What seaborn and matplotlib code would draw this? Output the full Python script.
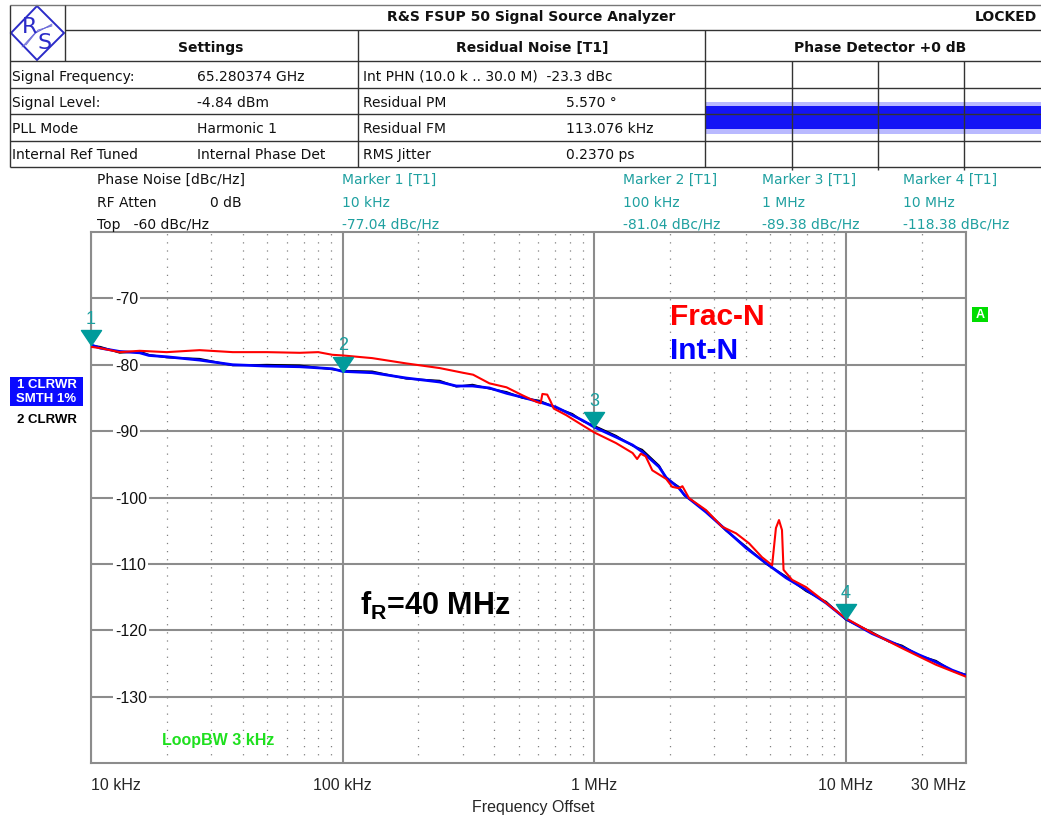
import numpy as np
import pandas as pd
import matplotlib
matplotlib.use("Agg")
import matplotlib.pyplot as plt
import matplotlib.transforms as mtransforms
from matplotlib.path import Path
from matplotlib.patches import Rectangle, Polygon
from matplotlib.ticker import LogLocator, NullFormatter
import seaborn as sns

# ---------------- data ----------------
intn_freq = [1.0e4, 1.09e4, 1.3e4, 1.56e4, 1.7e4, 2.0e4, 2.7e4, 3.66e4, 5.0e4, 6.75e4,
             9.1e4, 1.0e5, 1.31e5, 1.79e5, 2.43e5, 2.83e5, 3.28e5, 3.83e5, 4.48e5, 5.18e5,
             6.05e5, 7.06e5, 8.18e5, 9.0e5, 1.0e6, 1.22e6, 1.42e6, 1.55e6, 1.81e6, 1.93e6,
             2.17e6, 2.28e6, 2.78e6, 3.34e6, 4.01e6, 4.82e6, 5.78e6, 6.94e6, 8.34e6, 1.0e7,
             1.27e7, 1.48e7, 1.67e7, 1.95e7, 2.28e7, 2.64e7, 3.0e7]
intn_db = [-77.0, -77.5, -78.0, -78.2, -78.6, -78.8, -79.3, -80.0, -80.2, -80.3,
           -80.6, -81.0, -81.2, -82.0, -82.6, -83.2, -83.2, -83.5, -84.3, -84.9,
           -85.6, -86.4, -87.6, -88.4, -89.4, -90.9, -92.1, -93.1, -95.4, -97.0,
           -98.6, -99.6, -102.2, -104.9, -107.6, -109.9, -112.1, -113.9, -115.9, -118.3,
           -120.5, -121.6, -122.5, -123.7, -124.8, -126.0, -126.8]
# trace 2 (unsmoothed, black) follows the Int-N trace closely
intn_raw_db = [-77.1, -77.3, -78.2, -78.0, -78.5, -78.9, -79.1, -80.1, -80.0, -80.1,
               -80.7, -80.9, -81.0, -82.1, -82.4, -83.3, -83.0, -83.6, -84.1, -85.0,
               -85.4, -86.5, -87.4, -88.5, -89.2, -90.7, -92.2, -92.8, -95.2, -97.1,
               -98.4, -99.7, -102.0, -105.0, -107.4, -110.0, -111.9, -114.1, -115.7, -118.4,
               -120.3, -121.7, -122.3, -123.8, -124.6, -126.1, -126.7]
fracn_freq = [1.0e4, 1.09e4, 1.3e4, 1.56e4, 2.0e4, 2.7e4, 3.66e4, 5.0e4, 6.75e4, 8.0e4,
              9.1e4, 1.0e5, 1.31e5, 1.79e5, 2.43e5, 3.0e5, 3.3e5, 3.83e5, 4.48e5, 5.18e5,
              5.9e5, 6.12e5, 6.22e5, 6.5e5, 6.7e5, 6.9e5, 7.74e5, 8.96e5, 1.0e6, 1.22e6,
              1.42e6, 1.48e6, 1.53e6, 1.6e6, 1.7e6, 1.93e6, 2.04e6, 2.17e6, 2.24e6, 2.38e6,
              2.78e6, 3.22e6, 3.66e6, 4.12e6, 4.64e6, 5.09e6, 5.27e6, 5.42e6, 5.57e6, 5.65e6,
              6.11e6, 6.94e6, 7.81e6, 8.8e6, 1.0e7, 1.27e7, 1.67e7, 2.28e7, 3.0e7]
fracn_db = [-77.3, -77.5, -78.1, -77.9, -78.1, -77.8, -78.1, -78.1, -78.2, -78.1,
            -78.5, -78.6, -79.0, -79.8, -80.5, -81.2, -81.5, -82.8, -83.4, -84.6,
            -85.6, -85.8, -84.4, -84.5, -85.5, -86.6, -87.6, -89.1, -90.2, -91.8,
            -93.3, -94.2, -93.4, -93.8, -95.9, -97.2, -98.4, -98.6, -98.3, -100.1,
            -101.9, -104.4, -105.4, -106.9, -109.0, -110.2, -104.6, -103.4, -104.9, -110.9,
            -112.4, -113.5, -115.0, -116.6, -118.2, -120.4, -122.7, -125.2, -127.0]

marker_ids = ["1", "2", "3", "4"]
marker_freq = [1e4, 1e5, 1e6, 1e7]
marker_db = [-77.04, -81.04, -89.38, -118.38]
marker_freq_text = ["10 kHz", "100 kHz", "1 MHz", "10 MHz"]
marker_db_text = ["-77.04 dBc/Hz", "-81.04 dBc/Hz", "-89.38 dBc/Hz", "-118.38 dBc/Hz"]

x_ticks = [1e4, 1e5, 1e6, 1e7, 3e7]
x_tick_labels = ["10 kHz", "100 kHz", "1 MHz", "10 MHz", "30 MHz"]
y_ticks = [-70, -80, -90, -100, -110, -120, -130]

settings_labels = ["Signal Frequency:", "Signal Level:", "PLL Mode", "Internal Ref Tuned"]
settings_values = ["65.280374 GHz", "-4.84 dBm", "Harmonic 1", "Internal Phase Det"]
noise_labels = ["Int PHN (10.0 k .. 30.0 M)  -23.3 dBc", "Residual PM", "Residual FM", "RMS Jitter"]
noise_values = ["", "5.570 °", "113.076 kHz", "0.2370 ps"]

# ---------------- style ----------------
sns.set_style("white")
plt.rcParams["font.family"] = ["Liberation Sans", "DejaVu Sans"]
plt.rcParams["mathtext.fontset"] = "custom"
plt.rcParams["mathtext.bf"] = "Liberation Sans:bold"
plt.rcParams["mathtext.rm"] = "Liberation Sans"

W, H = 1041, 819
fig = plt.figure(figsize=(W / 100, H / 100), dpi=100)
fig.patch.set_facecolor("white")
L, R, T, B = 91, 966, 232, 763
ax = fig.add_axes([L / W, 1 - B / H, (R - L) / W, (B - T) / H])

df_raw = pd.DataFrame({"f": intn_freq, "db": intn_raw_db})
df_int = pd.DataFrame({"f": intn_freq, "db": intn_db})
df_frac = pd.DataFrame({"f": fracn_freq, "db": fracn_db})
sns.lineplot(data=df_raw, x="f", y="db", ax=ax, color="black", lw=1.3,
             estimator=None, sort=False, zorder=3)
sns.lineplot(data=df_int, x="f", y="db", ax=ax, color="#0000ff", lw=2.0,
             estimator=None, sort=False, zorder=4)
sns.lineplot(data=df_frac, x="f", y="db", ax=ax, color="#ff0000", lw=1.5,
             estimator=None, sort=False, zorder=5)

ax.set_xscale("log")
ax.set_xlim(1e4, 3e7)
ax.set_ylim(-140, -60)
ax.set_xticks(x_ticks)
ax.set_xticklabels(x_tick_labels)
ax.xaxis.set_minor_locator(LogLocator(base=10, subs=np.arange(2, 10), numticks=100))
ax.xaxis.set_minor_formatter(NullFormatter())
ax.set_yticks(y_ticks)
ax.set_yticklabels([])
ax.grid(True, which="major", axis="both", color="#8c8c8c", lw=1.5, ls="-")
ax.grid(True, which="minor", axis="x", color="#808080", lw=0.9, ls=(0, (1, 5.5)))
ax.tick_params(which="both", length=0)
ax.tick_params(axis="x", pad=11, labelsize=11.5)
for s in ax.spines.values():
    s.set_color("#8c8c8c")
    s.set_linewidth(1.5)
labs = ax.get_xticklabels()
labs[0].set_ha("left")
labs[-1].set_ha("right")
ax.set_ylabel("")
ax.set_xlabel("Frequency Offset", fontsize=11.5)
ax.xaxis.set_label_coords((533 - L) / (R - L), (B - 800) / (B - T))

trans = mtransforms.blended_transform_factory(ax.transAxes, ax.transData)
for v in y_ticks:
    ax.text((115 - L) / (R - L), v, str(v), transform=trans, ha="left",
            va="center_baseline", fontsize=11.5, color="#111111",
            bbox=dict(fc="white", ec="none", pad=1.5), zorder=2.5)

# markers
tri = Path([(0, 0), (-0.67, 1), (0.67, 1), (0, 0)],
           [Path.MOVETO, Path.LINETO, Path.LINETO, Path.CLOSEPOLY])
ax.plot(marker_freq, marker_db, ls="none", marker=tri, ms=21.6, color="#009b9b",
        mec="#009b9b", clip_on=False, zorder=6)
for f, d, lab in zip(marker_freq, marker_db, marker_ids):
    ax.annotate(lab, (f, d), xytext=(0, 12.5), textcoords="offset points", ha="center",
                va="bottom", color="#1a9f9f", fontsize=13,
                family=["Liberation Sans"], annotation_clip=False, zorder=6)

# ---------------- overlay in pixel coordinates ----------------
hx = fig.add_axes([0, 0, 1, 1])
hx.set_xlim(0, W)
hx.set_ylim(H, 0)
hx.axis("off")

lc = "#333333"
def hl(y, x0, x1, c=lc, lw=1.0):
    hx.plot([x0, x1], [y, y], color=c, lw=lw, solid_capstyle="butt")
def vl(x, y0, y1, c=lc, lw=1.0):
    hx.plot([x, x], [y0, y1], color=c, lw=lw, solid_capstyle="butt")

hl(5, 10, W, c="#777777")
hl(30, 65, W)
hl(61, 10, W)
for yy in (88, 114, 141):
    hl(yy, 10, W)
hl(167, 10, W)
vl(10, 5, 167)
vl(65, 5, 61)
vl(358, 30, 167)
vl(705, 30, 167)
for xx in (792, 878, 964):
    vl(xx, 61, 170)

# phase detector trace band
hx.add_patch(Rectangle((706, 102), W - 706, 32, fc="#1a1aff", ec="none", alpha=0.3))
hx.add_patch(Rectangle((706, 106), W - 706, 23, fc="#1414f5", ec="none"))

# logo
hx.add_patch(Polygon([(11, 33), (37, 6), (64, 33), (37, 60)], closed=True, fill=False,
                     ec="#2b2bc8", lw=1.4))
hx.text(30, 27, "R", fontsize=16, color="#2b2bc8", ha="center", va="center",
        family="DejaVu Sans")
hx.text(45, 43, "S", fontsize=16, color="#2b2bc8", ha="center", va="center",
        family="DejaVu Sans")
for k in range(3):
    hx.plot([22 + k * 2, 34 + k * 2, 52], [47 - k, 34 - k * 2, 24 + k], color="#6a6ad8", lw=0.6)

hf = dict(family="DejaVu Sans", fontsize=10, color="#111111")
hx.text(531, 21, "R&S FSUP 50 Signal Source Analyzer", ha="center", va="baseline",
        weight="bold", **hf)
hx.text(1037, 21, "LOCKED", ha="right", va="baseline", weight="bold", **hf)
hx.text(211, 52, "Settings", ha="center", va="baseline", weight="bold", **hf)
hx.text(532, 52, "Residual Noise [T1]", ha="center", va="baseline", weight="bold", **hf)
hx.text(880, 52, "Phase Detector +0 dB", ha="center", va="baseline", weight="bold", **hf)

row_base = [81, 107, 133, 159]
for yb, a, b, c, d in zip(row_base, settings_labels, settings_values, noise_labels, noise_values):
    hx.text(12, yb, a, ha="left", va="baseline", **hf)
    hx.text(197, yb, b, ha="left", va="baseline", **hf)
    hx.text(363, yb, c, ha="left", va="baseline", **hf)
    hx.text(566, yb, d, ha="left", va="baseline", **hf)

# info lines above the plot
hx.text(97, 184, "Phase Noise [dBc/Hz]", ha="left", va="baseline", **hf)
hx.text(97, 207, "RF Atten", ha="left", va="baseline", **hf)
hx.text(210, 207, "0 dB", ha="left", va="baseline", **hf)
hx.text(97, 229, "Top   -60 dBc/Hz", ha="left", va="baseline", **hf)
teal = "#1fa0a0"
for xm, mid, ft, dt in zip([342, 623, 762, 903], marker_ids, marker_freq_text, marker_db_text):
    hx.text(xm, 184, f"Marker {mid} [T1]", ha="left", va="baseline",
            family="DejaVu Sans", fontsize=10, color=teal)
    hx.text(xm, 207, ft, ha="left", va="baseline", family="DejaVu Sans", fontsize=10, color=teal)
    hx.text(xm, 229, dt, ha="left", va="baseline", family="DejaVu Sans", fontsize=10, color=teal)

# trace labels on the left
hx.add_patch(Rectangle((10, 377), 73, 29, fc="#0a0aff", ec="none"))
hx.text(46.5, 385.5, "1 CLRWR", ha="center", va="center", color="white",
        weight="bold", fontsize=9.5)
hx.text(46.5, 398.5, "SMTH 1%", ha="center", va="center", color="white",
        weight="bold", fontsize=9.5)
hx.text(47, 420, "2 CLRWR", ha="center", va="center", color="black",
        weight="bold", fontsize=9.5)

# green A
hx.add_patch(Rectangle((972, 307), 16, 15, fc="#00dd00", ec="none"))
hx.text(980, 314.5, "A", ha="center", va="center", color="white", weight="bold", fontsize=9)

# annotations
hx.text(670, 325, "Frac-N", ha="left", va="baseline", color="#ff0000", weight="bold",
        fontsize=21.5)
hx.text(670, 359, "Int-N", ha="left", va="baseline", color="#0000ff", weight="bold",
        fontsize=21.5)
hx.text(360, 615, r"$\mathbf{f_R}$=40 MHz", ha="left", va="baseline", color="black",
        weight="bold", fontsize=22)
hx.text(162, 745, "LoopBW 3 kHz", ha="left", va="baseline", color="#1ee01e",
        weight="bold", fontsize=11.5)

fig.savefig("out.png", dpi=100, facecolor="white")
